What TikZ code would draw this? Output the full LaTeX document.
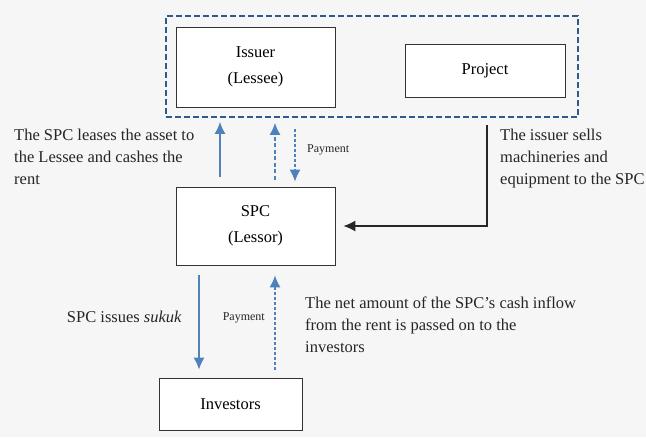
\documentclass[tikz,border=0pt]{standalone}
\usepackage{fontspec}
\setmainfont{Liberation Serif}
\usepackage{tikz}
\usetikzlibrary{
  arrows.meta,%
  positioning,%
  calc
}
\definecolor{flowblue}{HTML}{4F81BD}
\definecolor{groupblue}{HTML}{2F5A8C}
\definecolor{pagegray}{HTML}{F6F6F6}
\tikzset{>={Latex[length=12pt,width=11pt]}}
\tikzset{font=\fontsize{16.5}{22}\selectfont}
\tikzset{
  party/.style={draw=black!80, thick, fill=white, align=center, inner sep=0pt},
  flow/.style={->, flowblue, line width=1.4pt},
  payflow/.style={flow, dash pattern=on 4pt off 2.5pt},
  note/.style={align=left, inner sep=0pt, text=black!85},
  paynote/.style={font=\fontsize{12}{14}\selectfont, inner sep=0pt, text=black!85}
}

\begin{document}
\begin{tikzpicture}[x=1pt,y=-1pt]
  % page background
  \fill[pagegray] (0,0) rectangle (646,437);
  \useasboundingbox (0,0) rectangle (646,437);

  % issuer group
  \node[draw=groupblue, line width=1.8pt, dash pattern=on 6pt off 3pt,
    minimum width=412pt, minimum height=101pt, inner sep=0pt] (group) at (372,66.5) {};
  \node[party, minimum width=159pt, minimum height=80pt] (issuer) at (255.5,67) {Issuer\\[4pt](Lessee)};
  \node[party, minimum width=160pt, minimum height=53pt] (project) at (485,70.5) {Project};

  % spc and investors
  \node[party, minimum width=159pt, minimum height=78pt] (spc) at (255.5,226) {SPC\\[4pt](Lessor)};
  \node[party, minimum width=143pt, minimum height=52pt] (investors) at (230.5,404) {Investors};

  % flows between issuer and spc
  \draw[flow] ([xshift=-35.5pt,yshift=10pt]spc.north) -- ([xshift=-35.5pt,yshift=-4pt]spc.north |- group.south);
  \draw[payflow] ([xshift=19.5pt,yshift=7pt]spc.north) -- ([xshift=19.5pt,yshift=-5pt]spc.north |- group.south);
  \draw[payflow, dash pattern=on 3pt off 2pt] ([xshift=39.5pt,yshift=-11pt]spc.north |- group.south)
    -- ([xshift=39.5pt,yshift=5pt]spc.north) coordinate[pos=0.4] (rent);
  \node[paynote, anchor=west] at ([xshift=12pt]rent) {Payment};

  % sale of the equipment
  \coordinate (sale) at (487,125);
  \draw[->, black!85, line width=1.3pt] (sale) |- ([xshift=8pt]spc.east);

  % flows between spc and investors
  \draw[flow] ([xshift=-56.5pt,yshift=-10pt]spc.south) -- ([xshift=-56.5pt,yshift=8pt]spc.south |- investors.north);
  \draw[payflow, dash pattern=on 3pt off 2pt] ([xshift=19.5pt,yshift=8pt]spc.south |- investors.north)
    -- ([xshift=19.5pt,yshift=-10pt]spc.south) coordinate[pos=0.55] (passon);
  \node[paynote, anchor=east] at ([xshift=-10pt]passon) {Payment};

  % notes
  \node[note, anchor=north west] (leasenote) at (14,129) {The SPC leases the asset to\\the Lessee and cashes the\\rent};
  \node[note, anchor=north west] (salenote) at (500,129) {The issuer sells\\machineries and\\equipment to the SPC};
  \node[note, anchor=east] (issuenote) at (182,317) {SPC issues \textit{sukuk}};
  \node[note, anchor=north west] (passnote) at (305,297) {The net amount of the SPC's cash inflow\\from the rent is passed on to the\\investors};
\end{tikzpicture}
\end{document}
